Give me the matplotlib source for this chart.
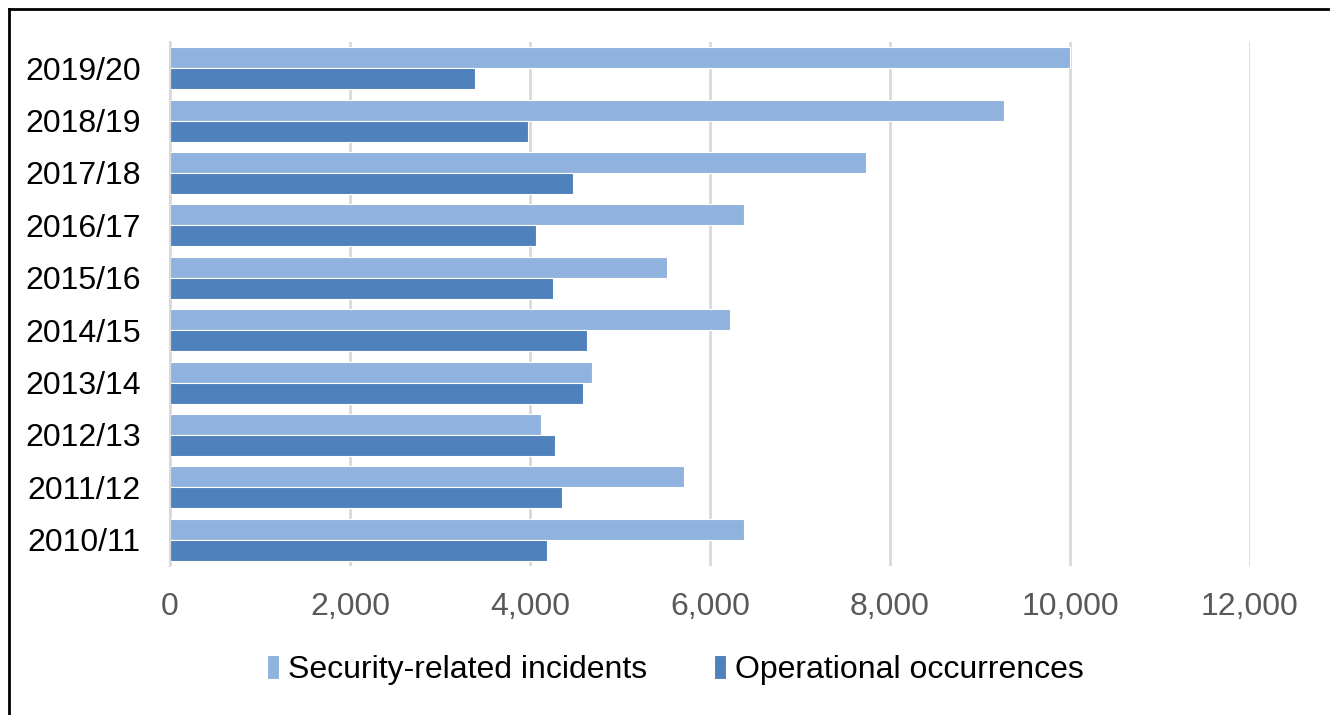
import numpy as np
import matplotlib.pyplot as plt
from matplotlib.lines import Line2D

plt.rcParams['font.family'] = ['Liberation Sans', 'DejaVu Sans']

# Yearly counts, listed top to bottom as shown
years = ['2019/20', '2018/19', '2017/18', '2016/17', '2015/16',
         '2014/15', '2013/14', '2012/13', '2011/12', '2010/11']
security = [10000, 9270, 7730, 6380, 5520, 6220, 4690, 4120, 5710, 6380]
operational = [3390, 3980, 4480, 4070, 4260, 4630, 4590, 4280, 4360, 4190]

light_blue = '#8FB3DE'
dark_blue = '#4F81BD'

fig = plt.figure(figsize=(13.3, 7.15), dpi=100)
ax = fig.add_axes([0.1278, 0.2084, 0.812, 0.7329])

y = np.arange(len(years))[::-1]
h = 0.4
ax.barh(y + h / 2, security, height=h, color=light_blue,
        edgecolor='white', linewidth=0.8, label='Security-related incidents', zorder=3)
ax.barh(y - h / 2, operational, height=h, color=dark_blue,
        edgecolor='white', linewidth=0.8, label='Operational occurrences', zorder=3)

ax.set_xlim(0, 12000)
ax.set_ylim(-0.5, len(years) - 0.5)
ax.set_xticks(np.arange(0, 12001, 2000))
ax.set_xticklabels([f'{v:,}' for v in range(0, 12001, 2000)])
ax.set_yticks(y)
ax.set_yticklabels(years)

ax.grid(axis='x', color='#D9D9D9', linewidth=2, zorder=0)
for s in ['top', 'right', 'bottom']:
    ax.spines[s].set_visible(False)
ax.spines['left'].set_color('#D9D9D9')
ax.spines['left'].set_linewidth(1.5)
ax.spines['left'].set_zorder(4)

ax.tick_params(axis='x', length=0, pad=19, labelsize=23, labelcolor='#595959')
ax.tick_params(axis='y', length=0, pad=21, labelsize=23, labelcolor='black')

fig.legend(loc='center', bbox_to_anchor=(0.508, 0.063), ncol=2, frameon=False,
           fontsize=23, handlelength=0.35, handleheight=0.8, handletextpad=0.3,
           columnspacing=2.1)

# Frame lines along the top and left edges
fig.add_artist(Line2D([0.0068, 1.0], [0.9874, 0.9874], transform=fig.transFigure,
                      color='black', linewidth=2))
fig.add_artist(Line2D([0.0068, 0.0068], [0.0, 0.9874], transform=fig.transFigure,
                      color='black', linewidth=2))

fig.savefig('out.png', dpi=100)
